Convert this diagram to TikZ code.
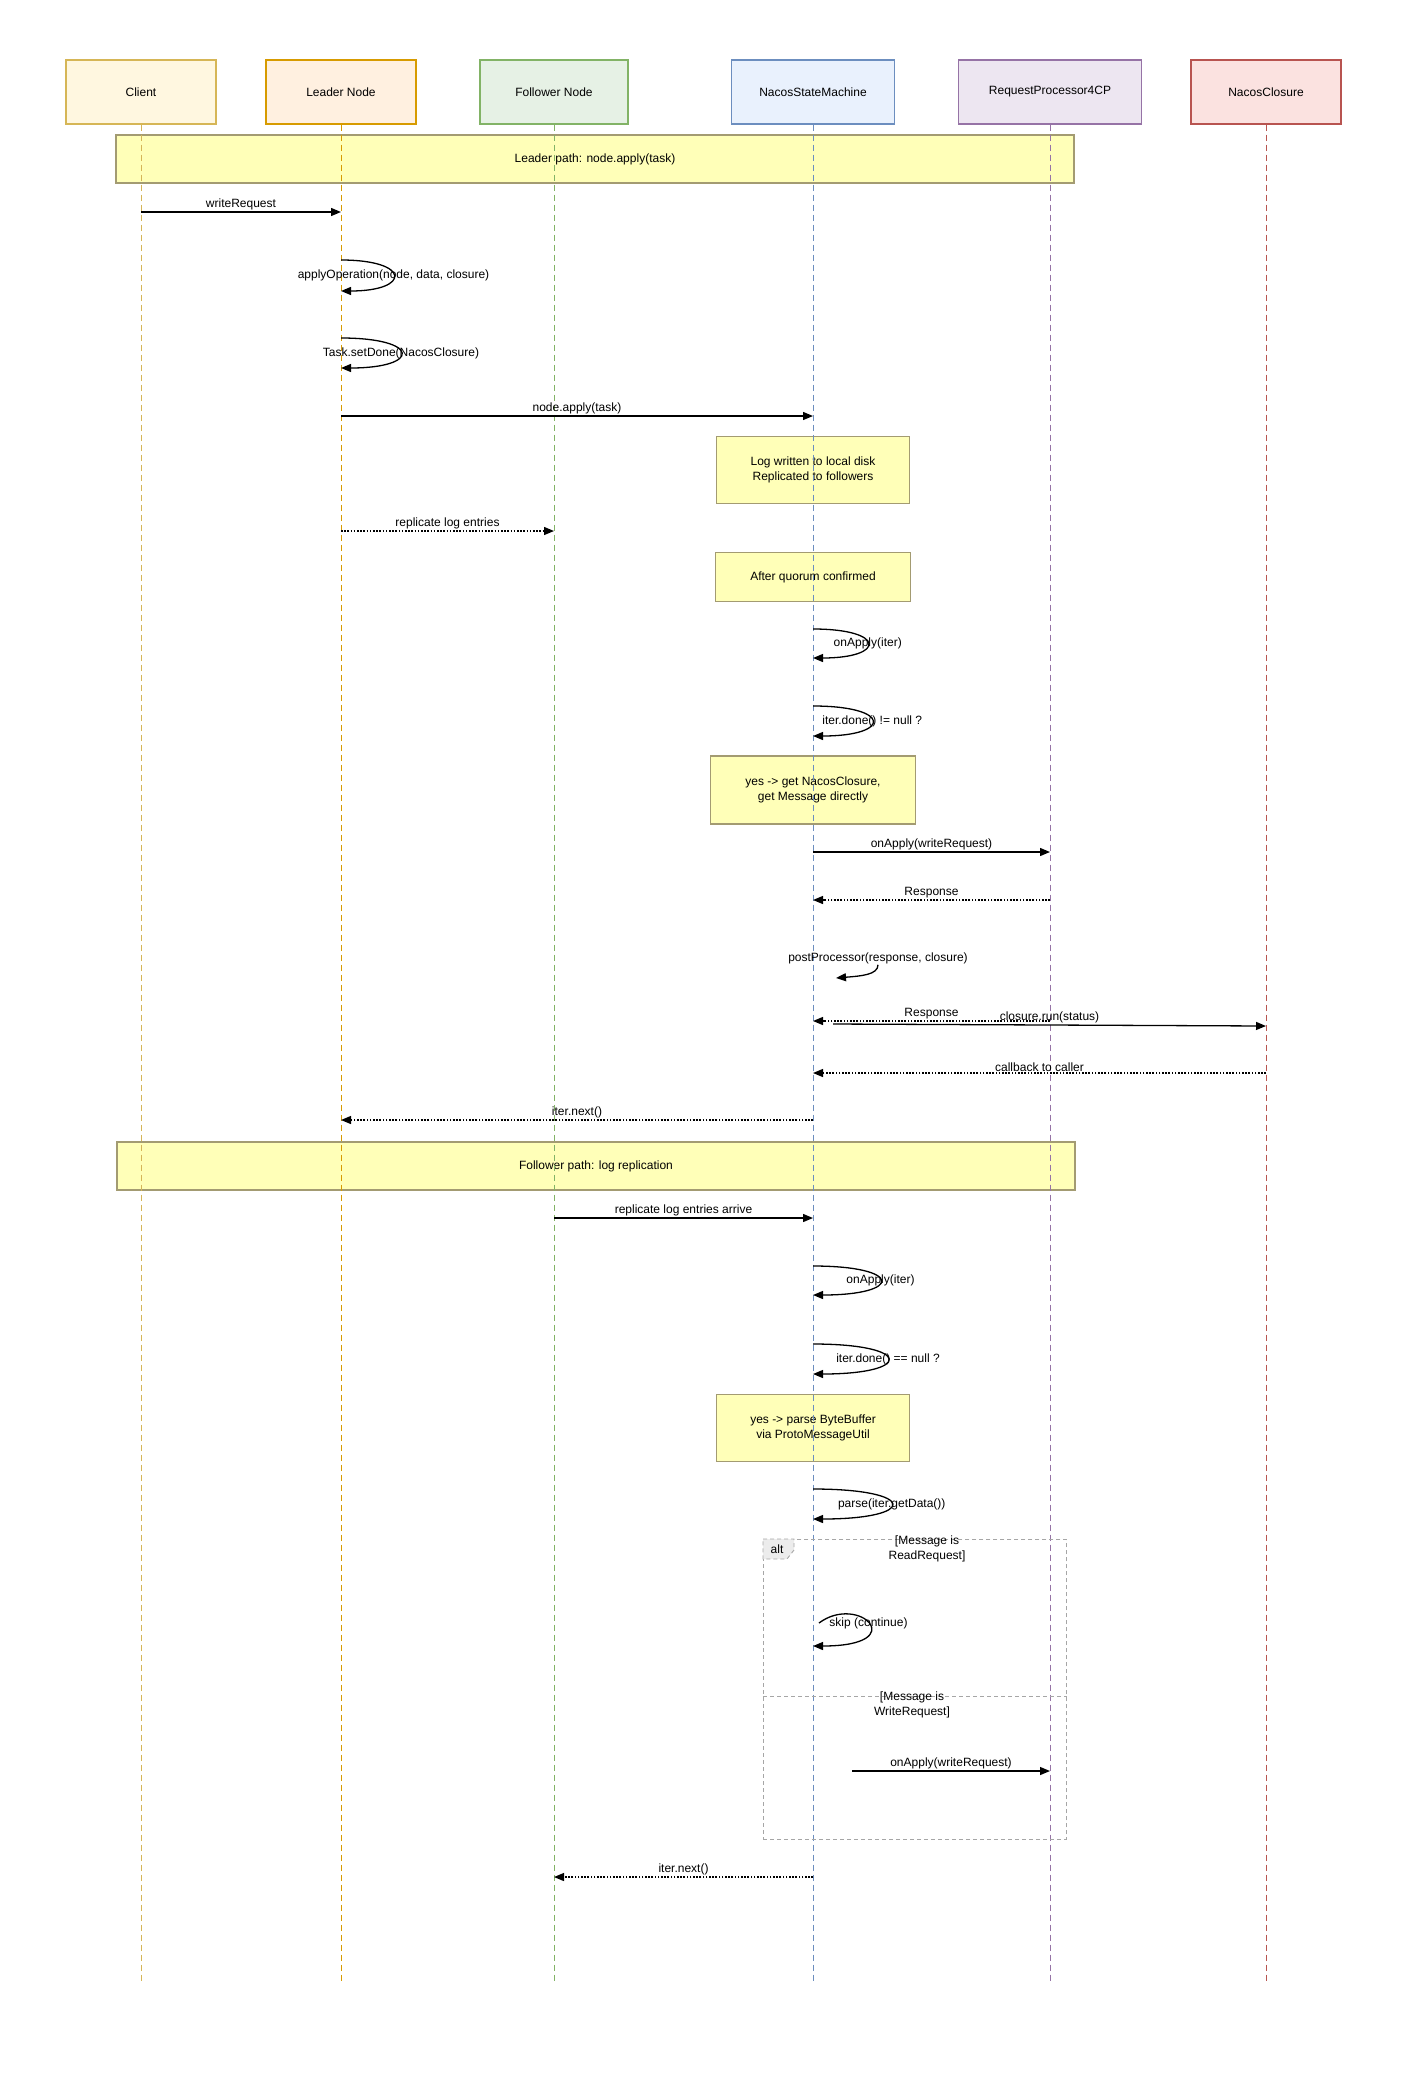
\documentclass[tikz,border=0pt]{standalone}
\usepackage{fontspec}
\setmainfont{Liberation Sans}
\usetikzlibrary{arrows.meta, calc, positioning}

\definecolor{clientfill}{HTML}{FFF2CC}  \definecolor{clientline}{HTML}{D6B656}
\definecolor{leaderfill}{HTML}{FFE6CC}  \definecolor{leaderline}{HTML}{D79B00}
\definecolor{followfill}{HTML}{D5E8D4}  \definecolor{followline}{HTML}{82B366}
\definecolor{nsmfill}{HTML}{DAE8FC}     \definecolor{nsmline}{HTML}{6C8EBF}
\definecolor{rpfill}{HTML}{E1D5E7}      \definecolor{rpline}{HTML}{9673A6}
\definecolor{closurefill}{HTML}{F8CECC} \definecolor{closureline}{HTML}{B85450}
\definecolor{notefill}{HTML}{FFFF99}    \definecolor{notedraw}{HTML}{A39B72}
\newcommand{\msgfont}{\fontsize{12}{15}\selectfont}

\begin{document}
\begin{tikzpicture}[
    x=1pt, y=-1pt,               % Pixelraster der Vorlage
    actor/.style={draw, line width=1.2pt, minimum width=150pt, minimum height=64pt, font=\msgfont},
    lifeline/.style={line width=0.9pt, dash pattern=on 6pt off 4pt},
    note/.style={draw=notedraw, fill=notefill!70!white, line width=1.2pt, align=center, font=\msgfont},
    lbl/.style={font=\msgfont, inner sep=1pt},
    msg/.style={-{Triangle[length=10pt,width=8pt]}, line width=1.3pt},
    ret/.style={msg, dash pattern=on 1.6pt off 1.6pt},
    altframe/.style={draw=gray!70, line width=0.9pt, dash pattern=on 4pt off 3pt}
  ]
  \useasboundingbox (0,0) rectangle (1414,2096);

  % Teilnehmer
  \node[actor, draw=clientline,  fill=clientfill!60!white]                        (client)   at (141,92)  {Client};
  \node[actor, draw=leaderline,  fill=leaderfill!60!white]                        (leader)   at (341,92)  {Leader Node};
  \node[actor, draw=followline,  fill=followfill!60!white, minimum width=148pt]   (follower) at (554,92)  {Follower Node};
  \node[actor, draw=nsmline,     fill=nsmfill!60!white,    minimum width=163pt]   (nsm)      at (813,92)  {NacosStateMachine};
  \node[actor, draw=rpline,      fill=rpfill!60!white,     minimum width=183pt]   (rp)       at (1050,92) {RequestProcessor4CP};
  \node[actor, draw=closureline, fill=closurefill!60!white]                       (closure)  at (1266,92) {NacosClosure};

  % Abschnitte und Notizen
  \node[note, minimum width=958pt, minimum height=48pt] (leaderpath)   at (595,159)  {Leader path: node.apply(task)};
  \node[note, minimum width=958pt, minimum height=48pt] (followerpath) at (596,1166) {Follower path: log replication};
  \node[note, minimum width=193pt, minimum height=67pt] (note1) at (813,470)  {Log written to local disk\\Replicated to followers};
  \node[note, minimum width=195pt, minimum height=49pt] (note2) at (813,577)  {After quorum confirmed};
  \node[note, minimum width=205pt, minimum height=68pt] (note3) at (813,790)  {yes -> get NacosClosure,\\get Message directly};
  \node[note, minimum width=193pt, minimum height=67pt] (note4) at (813,1428) {yes -> parse ByteBuffer\\via ProtoMessageUtil};

  % Lebenslinien
  \foreach \p/\c in {client/clientline, leader/leaderline, follower/followline, nsm/nsmline, rp/rpline, closure/closureline}
    \draw[lifeline, draw=\c] (\p.south) -- (\p.south |- 0,1983);

  % Leader-Pfad
  \draw[msg] (client |- 0,212) -- node[lbl, above] {writeRequest} (leader |- 0,212);
  \draw[msg] (leader |- 0,260) .. controls +(70,0) and +(70,0) .. node[lbl] {applyOperation(node, data, closure)} (leader |- 0,291);
  \draw[msg] (leader |- 0,338) .. controls +(80,0) and +(80,0) .. node[lbl] {Task.setDone(NacosClosure)} (leader |- 0,368);
  \draw[msg] (leader |- 0,416) -- node[lbl, above] {node.apply(task)} (nsm |- 0,416);
  \draw[ret] (leader |- 0,531) -- node[lbl, above] {replicate log entries} (follower |- 0,531);
  \draw[msg] (nsm |- 0,629) .. controls +(73,0) and +(73,0) .. node[lbl] {onApply(iter)} (nsm |- 0,658);
  \draw[msg] (nsm |- 0,706) .. controls +(79,0) and +(79,0) .. node[lbl] {iter.done() != null ?} (nsm |- 0,736);
  \draw[msg] (nsm |- 0,852) -- node[lbl, above] {onApply(writeRequest)} (rp |- 0,852);
  \draw[ret] (rp |- 0,900) -- node[lbl, above] {Response} (nsm |- 0,900);

  \node[lbl] (ppl) at (878,958) {postProcessor(response, closure)};
  \coordinate (ppend) at (836,978);
  \draw[msg] (ppl.south) .. controls +(0,10) and +(25,-2) .. (ppend);

  \draw[ret] (rp |- 0,1021) -- node[lbl, above] {Response} (nsm |- 0,1021);
  \coordinate (crstart) at (833,1024);
  \draw[msg] (crstart) -- node[lbl, above, pos=0.5] {closure.run(status)} (closure |- 0,1026);
  \draw[ret] (closure |- 0,1073) -- node[lbl, above] {callback to caller} (nsm |- 0,1073);
  \draw[ret] (nsm |- 0,1120) -- node[lbl, above] {iter.next()} (leader |- 0,1120);

  % Follower-Pfad
  \draw[msg] (follower |- 0,1218) -- node[lbl, above] {replicate log entries arrive} (nsm |- 0,1218);
  \draw[msg] (nsm |- 0,1266) .. controls +(90,0) and +(90,0) .. node[lbl] {onApply(iter)} (nsm |- 0,1295);
  \draw[msg] (nsm |- 0,1344) .. controls +(100,0) and +(100,0) .. node[lbl] {iter.done() == null ?} (nsm |- 0,1374);
  \draw[msg] (nsm |- 0,1489) .. controls +(105,0) and +(105,0) .. node[lbl] {parse(iter.getData())} (nsm |- 0,1519);

  % alt-Rahmen
  \node[altframe, minimum width=303pt, minimum height=300pt, anchor=north west, inner sep=0pt] (alt) at (763,1539) {};
  \draw[altframe, fill=gray!15] (alt.north west) -- ++(31,0) -- ++(0,11) -- ++(-7,9) -- (alt.north west |- 0,1559) -- cycle;
  \node[lbl] (alttag) at (777,1549) {alt};
  \draw[altframe] (alt.west |- 0,1696) -- (alt.east |- 0,1696);
  \node[lbl, align=center] (guard1) at (927,1549) {[Message is\\ReadRequest]};
  \node[lbl, align=center] (guard2) at (912,1705) {[Message is\\WriteRequest]};

  \coordinate (skipstart) at (819,1623);
  \draw[msg] (skipstart) .. controls +(40,-30) and +(100,0) .. node[lbl] {skip (continue)} (nsm |- 0,1646);
  \coordinate (wrstart) at (852,1771);
  \draw[msg] (wrstart) -- node[lbl, above] {onApply(writeRequest)} (rp |- 0,1771);

  \draw[ret] (nsm |- 0,1877) -- node[lbl, above] {iter.next()} (follower |- 0,1877);

\end{tikzpicture}
\end{document}
